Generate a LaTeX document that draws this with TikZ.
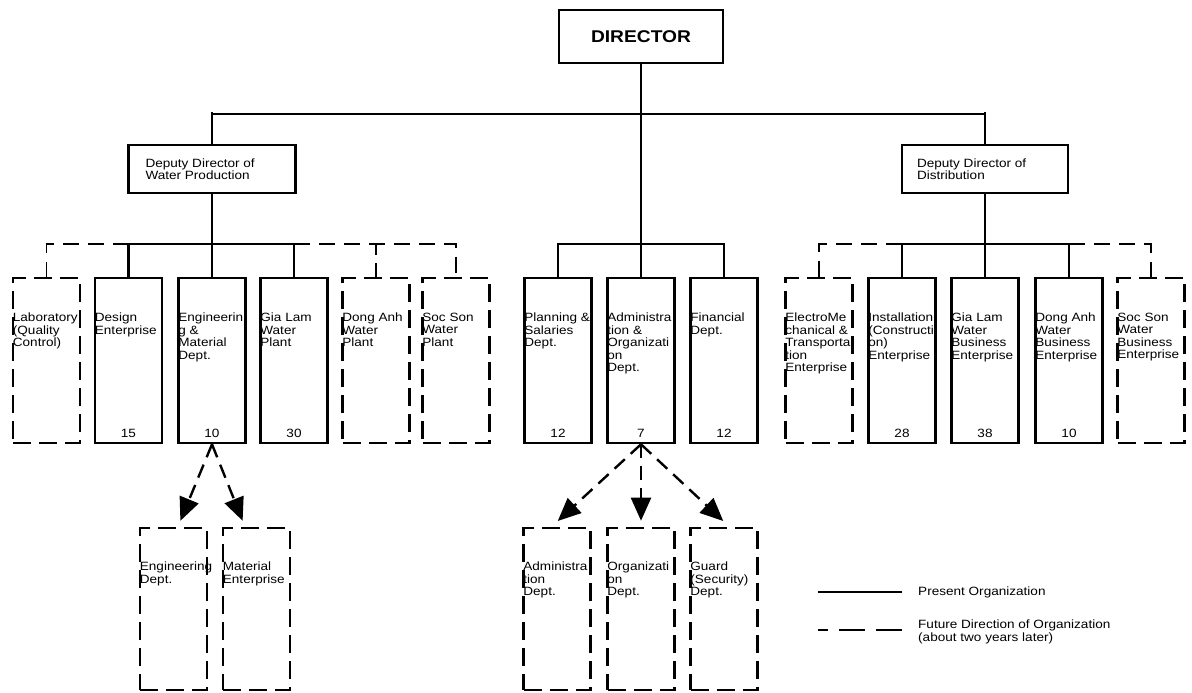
\documentclass[tikz,border=0pt]{standalone}
\usepackage{fontspec}
\setmainfont{Liberation Sans}[FakeStretch=1.13]
\usetikzlibrary{arrows.meta}

\begin{document}
\begin{tikzpicture}[x=1pt,y=-1pt,
  present/.style={draw,line width=2.6pt,minimum width=67pt,minimum height=165pt,inner sep=0pt},
  future/.style={present,dash pattern=on 18pt off 8pt},
  lowbox/.style={future,minimum height=162pt},
  headbox/.style={draw,line width=2.4pt,inner sep=0pt},
  boxtext/.style={anchor=north west,inner sep=0pt,align=left,font=\fontsize{12}{12.5}\selectfont},
  staff/.style={anchor=base,inner sep=0pt,font=\fontsize{12}{12}\selectfont},
  link/.style={line width=2.4pt},
  bus/.style={line width=1.6pt},
  futurelink/.style={link,dash pattern=on 14pt off 8pt},
  futurebus/.style={bus,dash pattern=on 16pt off 9pt},
  split/.style={futurelink,-{Triangle[length=23pt,width=20pt]},shorten >=1pt}]
\useasboundingbox (0,0) rectangle (1192,693);

% top of the chart
\node[headbox,minimum width=164pt,minimum height=53pt,font=\bfseries\fontsize{17}{17}\selectfont] (director) at (641,36.5) {DIRECTOR};
\node[headbox,minimum width=167pt,minimum height=48pt] (dwp) at (212,169) {};
\node[boxtext,anchor=west] (dwp-t) at ([xshift=18pt]dwp.west) {Deputy Director of\\Water Production};
\node[headbox,minimum width=166pt,minimum height=48pt] (ddist) at (985,169) {};
\node[boxtext,anchor=west] (ddist-t) at ([xshift=16pt]ddist.west) {Deputy Director of\\Distribution};

% water production
\node[future] (lab) at (46.5,360.5) {};
\node[present] (design) at (128.5,360.5) {};
\node[present] (engmat) at (212,360.5) {};
\node[present] (gialam) at (294,360.5) {};
\node[future] (donganh) at (376,360.5) {};
\node[future] (socson) at (456,360.5) {};
\node[boxtext] (lab-t) at ([shift={(1pt,-36pt)}]lab.north west) {Laboratory\\(Quality\\Control)};
\node[boxtext] (design-t) at ([shift={(1pt,-36pt)}]design.north west) {Design\\Enterprise};
\node[boxtext] (engmat-t) at ([shift={(1pt,-36pt)}]engmat.north west) {Engineerin\\g \&\\Material\\Dept.};
\node[boxtext] (gialam-t) at ([shift={(1pt,-36pt)}]gialam.north west) {Gia Lam\\Water\\Plant};
\node[boxtext] (donganh-t) at ([shift={(1pt,-36pt)}]donganh.north west) {Dong Anh\\Water\\Plant};
\node[boxtext] (socson-t) at ([shift={(1pt,-36pt)}]socson.north west) {Soc Son\\Water\\Plant};
\node[staff] (design-n) at ([yshift=7pt]design.south) {15};
\node[staff] (engmat-n) at ([yshift=7pt]engmat.south) {10};
\node[staff] (gialam-n) at ([yshift=7pt]gialam.south) {30};

% staff departments
\node[present] (plan) at (558,360.5) {};
\node[present] (admorg) at (641,360.5) {};
\node[present] (fin) at (724,360.5) {};
\node[boxtext] (plan-t) at ([shift={(1pt,-36pt)}]plan.north west) {Planning \&\\Salaries\\Dept.};
\node[boxtext] (admorg-t) at ([shift={(1pt,-36pt)}]admorg.north west) {Administra\\tion \&\\Organizati\\on\\Dept.};
\node[boxtext] (fin-t) at ([shift={(1pt,-36pt)}]fin.north west) {Financial\\Dept.};
\node[staff] (plan-n) at ([yshift=7pt]plan.south) {12};
\node[staff] (admorg-n) at ([yshift=7pt]admorg.south) {7};
\node[staff] (fin-n) at ([yshift=7pt]fin.south) {12};

% distribution
\node[future] (elec) at (819,360.5) {};
\node[present] (inst) at (902,360.5) {};
\node[present] (glbus) at (985,360.5) {};
\node[present] (dabus) at (1069,360.5) {};
\node[future] (ssbus) at (1151,360.5) {};
\node[boxtext] (elec-t) at ([shift={(1pt,-36pt)}]elec.north west) {ElectroMe\\chanical \&\\Transporta\\tion\\Enterprise};
\node[boxtext] (inst-t) at ([shift={(1pt,-36pt)}]inst.north west) {Installation\\(Constructi\\on)\\Enterprise};
\node[boxtext] (glbus-t) at ([shift={(1pt,-36pt)}]glbus.north west) {Gia Lam\\Water\\Business\\Enterprise};
\node[boxtext] (dabus-t) at ([shift={(1pt,-36pt)}]dabus.north west) {Dong Anh\\Water\\Business\\Enterprise};
\node[boxtext] (ssbus-t) at ([shift={(1pt,-36pt)}]ssbus.north west) {Soc Son\\Water\\Business\\Enterprise};
\node[staff] (inst-n) at ([yshift=7pt]inst.south) {28};
\node[staff] (glbus-n) at ([yshift=7pt]glbus.south) {38};
\node[staff] (dabus-n) at ([yshift=7pt]dabus.south) {10};

% future split-ups
\node[lowbox] (engdept) at (173.5,609) {};
\node[lowbox] (matent) at (256.5,609) {};
\node[lowbox] (admdept) at (557,609) {};
\node[lowbox] (orgdept) at (641,609) {};
\node[lowbox] (guard) at (724,609) {};
\node[boxtext] (engdept-t) at ([shift={(1pt,-35pt)}]engdept.north west) {Engineering\\Dept.};
\node[boxtext] (matent-t) at ([shift={(1pt,-35pt)}]matent.north west) {Material\\Enterprise};
\node[boxtext] (admdept-t) at ([shift={(1pt,-35pt)}]admdept.north west) {Administra\\tion\\Dept.};
\node[boxtext] (orgdept-t) at ([shift={(1pt,-35pt)}]orgdept.north west) {Organizati\\on\\Dept.};
\node[boxtext] (guard-t) at ([shift={(1pt,-35pt)}]guard.north west) {Guard\\(Security)\\Dept.};

% connectors
\draw[link] (director.south) -- (admorg.north);
\draw[bus] (dwp.north) |- ([yshift=-50pt]director.south) -| (ddist.north);
\draw[link] (dwp.north) -- ++(0,-32);
\draw[link] (ddist.north) -- ++(0,-32);
\draw[link] (dwp.south) -- (engmat.north);
\draw[link] (ddist.south) -- (glbus.north);
\draw[link] (design.north) -- ([yshift=33pt]design.north);
\draw[link] (gialam.north) -- ([yshift=33pt]gialam.north);
\draw[bus] ([yshift=33pt]design.north) -- ([yshift=33pt]gialam.north);
\draw[futurebus] ([yshift=33pt]design.north) -| (lab.north);
\draw[futurebus] ([yshift=33pt]gialam.north) -| (socson.north);
\draw[futurelink] (donganh.north) -- ([yshift=33pt]donganh.north);
\draw[link] (plan.north) |- ([yshift=33pt]admorg.north) -| (fin.north);
\draw[link] (inst.north) -- ([yshift=33pt]inst.north);
\draw[link] (dabus.north) -- ([yshift=33pt]dabus.north);
\draw[bus] ([yshift=33pt]inst.north) -- ([yshift=33pt]dabus.north);
\draw[futurebus] ([yshift=33pt]inst.north) -| (elec.north);
\draw[futurebus] ([yshift=33pt]dabus.north) -| (ssbus.north);

\draw[split] (engmat.south) -- ([xshift=6.5pt,yshift=5pt]engdept.north);
\draw[split] (engmat.south) -- ([xshift=-13.5pt,yshift=5pt]matent.north);
\draw[split] (admorg.south) -- ([yshift=5pt]admdept.north);
\draw[split] (admorg.south) -- ([yshift=5pt]orgdept.north);
\draw[split] (admorg.south) -- ([yshift=5pt]guard.north);

% legend
\node[boxtext,anchor=west] (leg-present) at (918,592) {Present Organization};
\node[boxtext,anchor=west] (leg-future) at (918,632) {Future Direction of Organization\\(about two years later)};
\draw[bus] ([xshift=-16pt]leg-present.west) -- ([xshift=-100pt]leg-present.west);
\draw[bus,dash pattern=on 26pt off 11pt] ([shift={(-16pt,2pt)}]leg-future.west) -- ([shift={(-100pt,2pt)}]leg-future.west);
\end{tikzpicture}
\end{document}
